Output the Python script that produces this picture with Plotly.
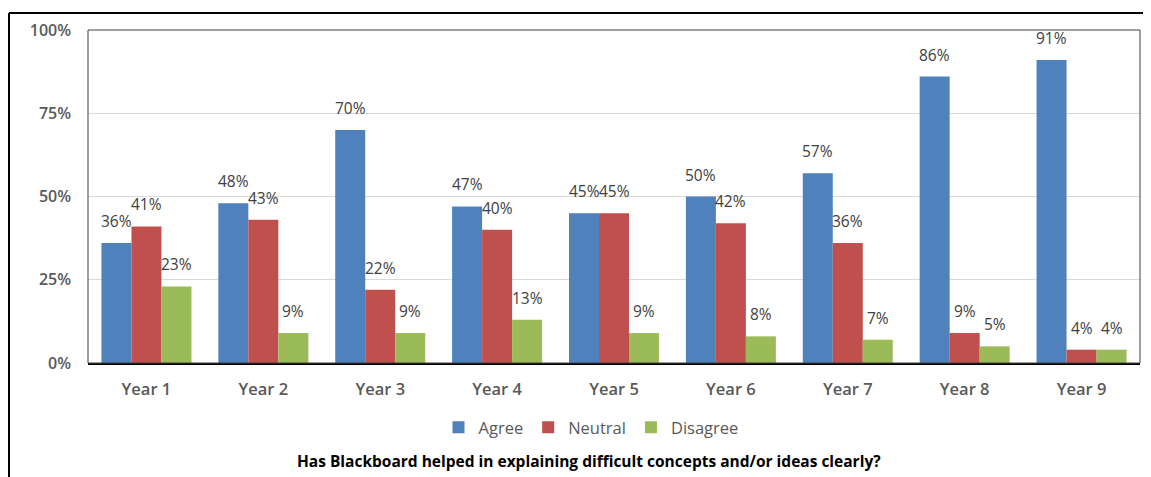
import plotly.graph_objects as go

categories = ["Year 1", "Year 2", "Year 3", "Year 4", "Year 5", "Year 6", "Year 7", "Year 8", "Year 9"]
agree = [36, 48, 70, 47, 45, 50, 57, 86, 91]
neutral = [41, 43, 22, 40, 45, 42, 36, 9, 4]
disagree = [23, 9, 9, 13, 9, 8, 7, 5, 4]
series_names = ["Agree", "Neutral", "Disagree"]
y_ticks = [0, 25, 50, 75, 100]
y_tick_labels = ["0%", "25%", "50%", "75%", "100%"]
title_text = "Has Blackboard helped in explaining difficult concepts and/or ideas clearly?"

colors = ["#4f81bd", "#c0504d", "#9bbb59"]
FONT = "Open Sans"
BARGAP = 0.23
OFF = 8  # page body margin
SW, SH = 1151, 477
W, H = SW - OFF, SH - OFF
# screen-pixel plot area
PL, PR, PT, PB = 88, 1140, 28, 363
ML, MR, MT, MB = PL - OFF, W - (PR - OFF), PT - OFF, H - (PB - OFF)
PW = PR - PL
PH = PB - PT

def px_x(p):
    return (p - PL) / PW

def px_y(p):
    return (PB - p) / PH

xs = list(range(len(categories)))
series = [agree, neutral, disagree]
fig = go.Figure()
for name, vals, col in zip(series_names, series, colors):
    fig.add_trace(go.Bar(x=xs, y=vals, name=name, marker=dict(color=col, line=dict(width=0))))

bw = (1 - BARGAP) / len(series)
annotations = []
for i, vals in enumerate(series):
    off = (i - (len(series) - 1) / 2) * bw
    for xi, v in zip(xs, vals):
        annotations.append(dict(x=xi + off, y=v, xref="x", yref="y", text=f"{v}%",
                                showarrow=False, yanchor="bottom", yshift=9,
                                font=dict(family=FONT, size=15.5, color="#404040")))

annotations.append(dict(x=px_x(589), y=px_y(462), xref="paper", yref="paper", text=title_text,
                        showarrow=False, xanchor="center", yanchor="middle",
                        font=dict(family=FONT, size=15.5, color="#000000", weight="bold")))

shapes = [
    dict(type="rect", xref="paper", yref="paper", x0=0, x1=1, y0=0, y1=1,
         line=dict(color="#404040", width=1), layer="above"),
    dict(type="line", xref="paper", yref="paper", x0=px_x(9), x1=px_x(1160), y0=px_y(11), y1=px_y(11),
         line=dict(color="#000000", width=2)),
    dict(type="line", xref="paper", yref="paper", x0=px_x(9), x1=px_x(9), y0=px_y(11), y1=px_y(490),
         line=dict(color="#000000", width=2)),
]

fig.update_layout(
    width=W, height=H,
    margin=dict(l=ML, r=MR, t=MT, b=MB, pad=0),
    paper_bgcolor="white", plot_bgcolor="white",
    barmode="group", bargap=BARGAP, bargroupgap=0,
    font=dict(family=FONT, size=14, color="#595959"),
    legend=dict(orientation="h", x=px_x(591), y=px_y(428), xanchor="center", yanchor="middle",
                font=dict(family=FONT, size=16.5, color="#595959"), itemwidth=30,
                traceorder="normal"),
    annotations=annotations,
    shapes=shapes,
)
fig.update_xaxes(range=[-0.5, len(categories) - 0.5], tickvals=xs, ticktext=categories,
                 tickfont=dict(family=FONT, size=16.5, color="#595959", weight=600),
                 showgrid=False, showline=True, linecolor="#000000", linewidth=2,
                 ticks="", ticklabelstandoff=10, zeroline=False)
fig.update_yaxes(range=[0, 100], tickvals=y_ticks, ticktext=y_tick_labels,
                 tickfont=dict(family=FONT, size=16, color="#595959", weight=600),
                 showgrid=True, gridcolor="#d9d9d9", gridwidth=1, zeroline=False,
                 showline=False, ticks="", ticklabelstandoff=16)

fig.write_html("out.html")
